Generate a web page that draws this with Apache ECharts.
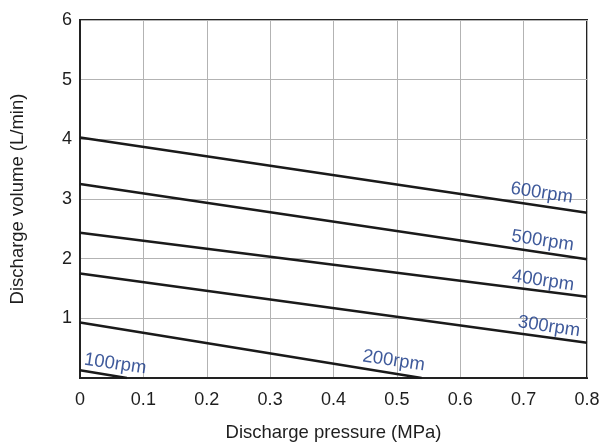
<!DOCTYPE html>
<html>
<head>
<meta charset="utf-8">
<script src="https://cdn.jsdelivr.net/npm/echarts@6/dist/echarts.min.js"></script>
<style>html,body{margin:0;padding:0;background:#fff}#c{width:599px;height:443px}</style>
</head>
<body>
<div id="c"></div>
<script>
var xTicks = [0, 0.1, 0.2, 0.3, 0.4, 0.5, 0.6, 0.7, 0.8];
var yTicks = [0, 1, 2, 3, 4, 5, 6];
var rpm100 = [[0, 0.13], [0.074, 0]];
var rpm200 = [[0, 0.93], [0.539, 0]];
var rpm300 = [[0, 1.75], [0.8, 0.59]];
var rpm400 = [[0, 2.435], [0.8, 1.36]];
var rpm500 = [[0, 3.25], [0.8, 1.99]];
var rpm600 = [[0, 4.03], [0.8, 2.77]];
var labelNames = ['100rpm', '200rpm', '300rpm', '400rpm', '500rpm', '600rpm'];
var labelPos = [[0.0555, 0.235], [0.495, 0.288], [0.740, 0.86], [0.7306, 1.63], [0.730, 2.30], [0.7285, 3.10]];

var chart = echarts.init(document.getElementById('c'));
var font = 'Liberation Sans, Arial, Helvetica, sans-serif';
function lineSeries(name, data) {
  return {
    name: name, type: 'line', data: data, symbol: 'none', clip: true,
    lineStyle: {color: '#1a1a1a', width: 2.5}, silent: true, animation: false
  };
}
var labelData = labelNames.map(function (n, i) {
  return {value: labelPos[i], name: n};
});
chart.setOption({
  animation: false,
  grid: {left: 80, right: 12, top: 20, bottom: 65, outerBoundsMode: 'none', containLabel: false,
    show: true, borderColor: '#222', borderWidth: 2, backgroundColor: 'transparent'},
  xAxis: {
    type: 'value', min: 0, max: 0.8, interval: 0.1,
    name: 'Discharge pressure (MPa)', nameLocation: 'middle', nameGap: 45,
    nameTextStyle: {fontFamily: font, fontSize: 18.5, color: '#1e1e1e'},
    axisLine: {show: true, lineStyle: {color: '#222', width: 2}},
    axisTick: {show: false},
    axisLabel: {fontFamily: font, fontSize: 18, color: '#1e1e1e', margin: 13,
      formatter: function (v) { return String(Math.round(v * 10) / 10); }},
    splitLine: {show: true, lineStyle: {color: '#b3b3b3', width: 1}}
  },
  yAxis: {
    type: 'value', min: 0, max: 6, interval: 1,
    name: 'Discharge volume (L/min)', nameLocation: 'middle', nameGap: 53,
    nameTextStyle: {fontFamily: font, fontSize: 18.5, color: '#1e1e1e'},
    axisLine: {show: true, lineStyle: {color: '#222', width: 2}},
    axisTick: {show: false},
    axisLabel: {fontFamily: font, fontSize: 18, color: '#1e1e1e', margin: 8,
      formatter: function (v) { return v === 0 ? '' : String(v); }},
    splitLine: {show: true, lineStyle: {color: '#b3b3b3', width: 1}}
  },
  series: [
    lineSeries('100rpm', rpm100),
    lineSeries('200rpm', rpm200),
    lineSeries('300rpm', rpm300),
    lineSeries('400rpm', rpm400),
    lineSeries('500rpm', rpm500),
    lineSeries('600rpm', rpm600),
    {
      type: 'scatter', data: labelData, symbolSize: 1, silent: true,
      itemStyle: {color: 'rgba(0,0,0,0)'},
      label: {show: true, position: 'inside', formatter: '{b}', rotate: -8.5,
        fontFamily: font, fontSize: 18.5, color: '#0f3182'}
    }
  ]
});
</script>
</body>
</html>
